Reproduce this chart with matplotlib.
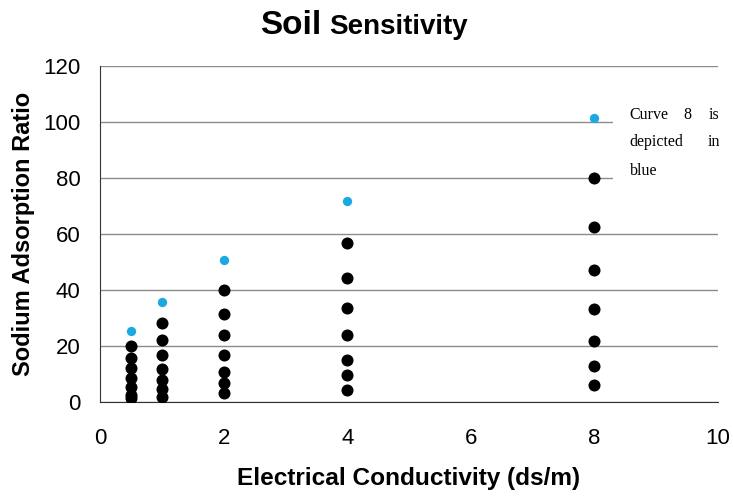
import matplotlib.pyplot as plt
from matplotlib.patches import Rectangle

plt.rcParams['font.family'] = ['Liberation Sans', 'DejaVu Sans']

# electrical conductivity levels and the sodium adsorption ratio curves read at each
ec_levels = [0.5, 1, 2, 4, 8]
sar_black = [
    [20, 15.6, 12, 8.5, 5.5, 2.5, 1.4],
    [28.2, 22.1, 16.8, 11.8, 7.9, 4.6, 1.8],
    [40, 31.4, 23.9, 16.8, 10.8, 6.8, 3.2],
    [56.7, 44.2, 33.5, 23.9, 15, 9.6, 4.3],
    [79.9, 62.6, 47.1, 33.1, 21.9, 12.9, 6.1],
]
sar_curve8 = [25.4, 35.7, 50.7, 71.8, 101.3]

fig = plt.figure(figsize=(7.33, 4.96), dpi=100)
ax = fig.add_axes([100 / 733, 1 - 402 / 496, 618 / 733, 336 / 496])

for x, ys in zip(ec_levels, sar_black):
    ax.scatter([x] * len(ys), ys, s=75, color='black', zorder=3, linewidths=0)
ax.scatter(ec_levels, sar_curve8, s=45, color='#1BA9E1', zorder=3, linewidths=0)

ax.set_xlim(0, 10)
ax.set_ylim(0, 120)
ax.set_xticks(range(0, 11, 2))
ax.set_yticks(range(0, 121, 20))
ax.tick_params(axis='y', length=0, labelsize=16, pad=14)
ax.tick_params(axis='x', length=0, labelsize=16, pad=19)
ax.grid(axis='y', color='#8c8c8c', linewidth=1)
ax.set_axisbelow(True)
for side in ['top', 'right']:
    ax.spines[side].set_visible(False)
for side in ['left', 'bottom']:
    ax.spines[side].set_color('#333333')

ax.set_xlabel('Electrical Conductivity (ds/m)', fontsize=17.6, fontweight='bold', labelpad=13)
ax.set_ylabel('Sodium Adsorption Ratio', fontsize=17, fontweight='bold', labelpad=6)

# note box hiding the gridlines behind it
ax.add_patch(Rectangle((8.3, 68), 1.75, 44, transform=ax.transData,
                       facecolor='white', edgecolor='none', zorder=2, clip_on=False))
serif = ['Liberation Serif', 'DejaVu Serif']
fs = 11.5
ax.text(8.57, 102.5, 'Curve', fontsize=fs, family=serif, ha='left', va='center', zorder=4)
ax.text(9.5, 102.5, '8', fontsize=fs, family=serif, ha='center', va='center', zorder=4)
ax.text(10.03, 102.5, 'is', fontsize=fs, family=serif, ha='right', va='center', zorder=4, clip_on=False)
ax.text(8.57, 93, 'depicted', fontsize=fs, family=serif, ha='left', va='center', zorder=4)
ax.text(10.03, 93, 'in', fontsize=fs, family=serif, ha='right', va='center', zorder=4, clip_on=False)
ax.text(8.57, 82.5, 'blue', fontsize=fs, family=serif, ha='left', va='center', zorder=4)

fig.text(321 / 733, 1 - 34 / 496, 'Soil', fontsize=24, fontweight='bold', ha='right', va='baseline')
fig.text(329 / 733, 1 - 34 / 496, 'Sensitivity', fontsize=20, fontweight='bold', ha='left', va='baseline')

fig.savefig('out.png', dpi=100)
